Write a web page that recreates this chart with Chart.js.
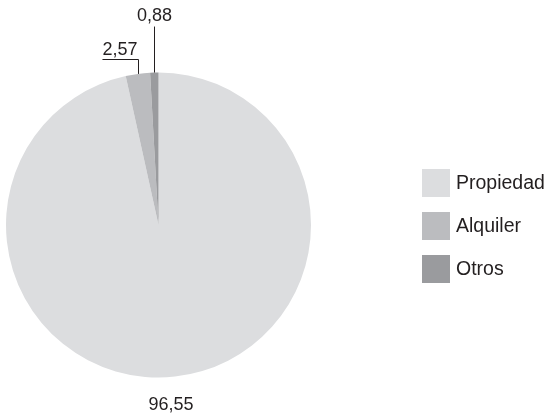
<!DOCTYPE html>
<html>
<head>
<meta charset="utf-8">
<script src="https://cdn.jsdelivr.net/npm/chart.js@4"></script>
<style>
  html, body { margin: 0; padding: 0; background: #ffffff; }
  #wrap { width: 550px; height: 420px; }
</style>
</head>
<body>
<div id="wrap"><canvas id="tenureChart" width="550" height="420"></canvas></div>
<script>
const categories = ["Propiedad", "Alquiler", "Otros"];
const shares = [96.55, 2.57, 0.88];
const shareLabels = ["96,55", "2,57", "0,88"];
const sliceColors = ["#dcdddf", "#bbbcbf", "#9a9b9e"];

const inkColor = "#231f20";
const labelFont = "18px 'Liberation Sans', Arial, sans-serif";
const legendFont = "19.5px 'Liberation Sans', Arial, sans-serif";

// value labels with leader lines, placed from each arc's own geometry
const sliceLabels = {
  id: "sliceLabels",
  afterDatasetsDraw(chart) {
    const ctx = chart.ctx;
    const arcs = chart.getDatasetMeta(0).data;
    ctx.save();
    ctx.font = labelFont;
    ctx.fillStyle = inkColor;
    ctx.strokeStyle = inkColor;
    ctx.lineWidth = 1;

    arcs.forEach((arc, i) => {
      const mid = (arc.startAngle + arc.endAngle) / 2;
      const ex = arc.x + arc.outerRadius * Math.cos(mid);
      const ey = arc.y + arc.outerRadius * Math.sin(mid);
      const text = shareLabels[i];
      const w = ctx.measureText(text).width;

      if (i === 0) {
        // big slice: value sits under the pie, no leader
        ctx.textAlign = "center";
        ctx.textBaseline = "top";
        ctx.fillText(text, ex - 4, ey + 19);
      } else if (i === 1) {
        const lx = Math.round(ex) + 0.5;
        const ly = Math.round(ey - 15) + 0.5;
        ctx.beginPath();
        ctx.moveTo(lx, ey);
        ctx.lineTo(lx, ly);
        ctx.lineTo(lx - w - 1, ly);
        ctx.stroke();
        ctx.textAlign = "left";
        ctx.textBaseline = "alphabetic";
        ctx.fillText(text, lx - w - 1, ly - 5);
      } else {
        const lx = Math.round(ex) + 0.5;
        const top = ey - 46;
        ctx.beginPath();
        ctx.moveTo(lx, ey);
        ctx.lineTo(lx, top);
        ctx.stroke();
        ctx.textAlign = "center";
        ctx.textBaseline = "alphabetic";
        ctx.fillText(text, lx, top - 6);
      }
    });
    ctx.restore();
  }
};

// square-swatch legend to the right of the pie
const sideLegend = {
  id: "sideLegend",
  afterDraw(chart) {
    const ctx = chart.ctx;
    const boxX = 422, boxSize = 28, firstTop = 169, step = 43;
    ctx.save();
    ctx.font = legendFont;
    ctx.textAlign = "left";
    ctx.textBaseline = "middle";
    categories.forEach((name, i) => {
      const top = firstTop + i * step;
      ctx.fillStyle = sliceColors[i];
      ctx.fillRect(boxX, top, boxSize, boxSize);
      ctx.fillStyle = inkColor;
      ctx.fillText(name, boxX + boxSize + 6, top + boxSize / 2 + 1);
    });
    ctx.restore();
  }
};

function createTenureChart() {
  const ctx = document.getElementById("tenureChart");
  if (!ctx) return;

  new Chart(ctx, {
    type: "pie",
    data: {
      labels: categories,
      datasets: [
        {
          data: shares,
          backgroundColor: sliceColors,
          borderWidth: 0
        }
      ]
    },
    options: {
      responsive: false,
      animation: false,
      layout: {
        padding: { left: 6, top: 72, right: 239, bottom: 42 }
      },
      plugins: {
        legend: { display: false },
        tooltip: { enabled: false }
      }
    },
    plugins: [sliceLabels, sideLegend]
  });
}

document.addEventListener("DOMContentLoaded", createTenureChart);
</script>
</body>
</html>
